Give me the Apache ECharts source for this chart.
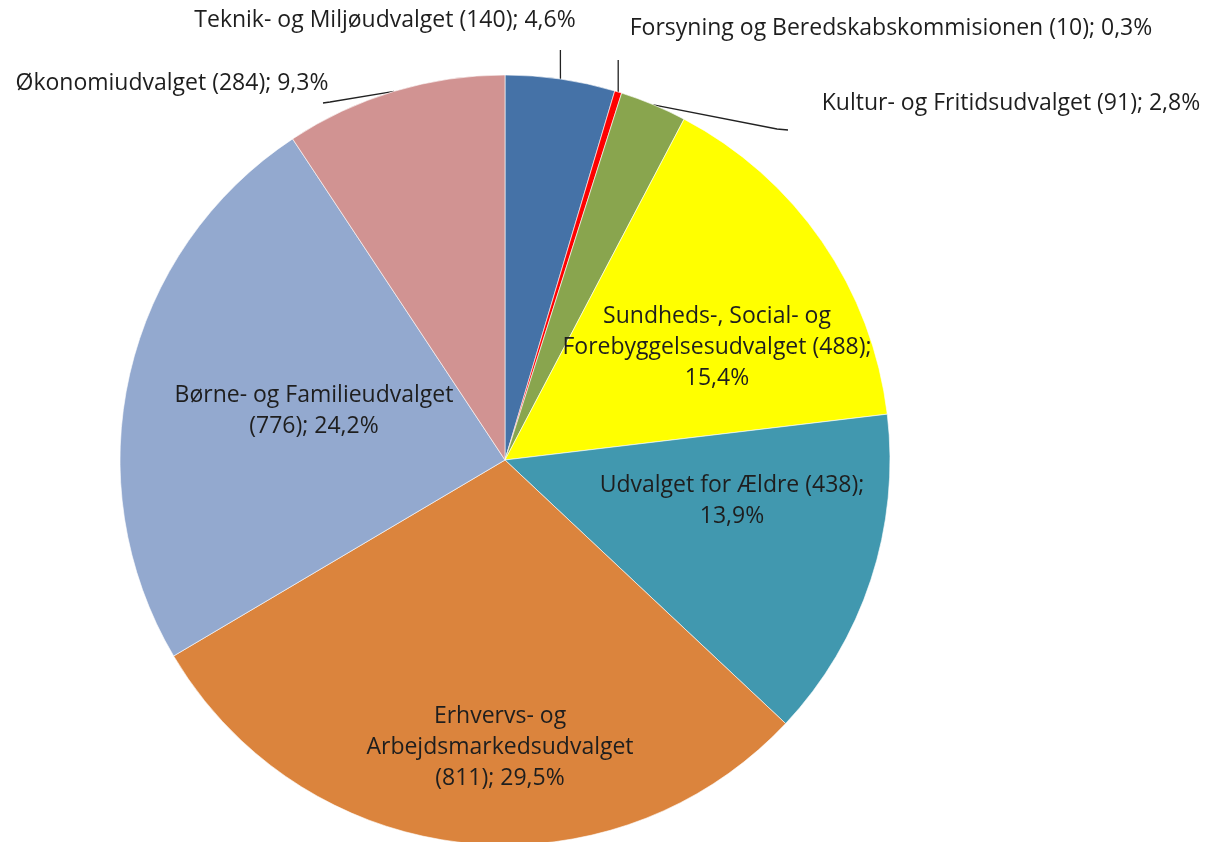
<!DOCTYPE html>
<html><head><meta charset="utf-8">
<script src="https://cdn.jsdelivr.net/npm/echarts@6/dist/echarts.min.js"></script>
<style>html,body{margin:0;padding:0;background:#fff}#c{width:1212px;height:842px}</style>
</head><body><div id="c"></div>
<script>
// ---- data ----
const names = [
  'Teknik- og Miljøudvalget',
  'Forsyning og Beredskabskommisionen',
  'Kultur- og Fritidsudvalget',
  'Sundheds-, Social- og Forebyggelsesudvalget',
  'Udvalget for Ældre',
  'Erhvervs- og Arbejdsmarkedsudvalget',
  'Børne- og Familieudvalget',
  'Økonomiudvalget'
];
const counts = [140, 10, 91, 488, 438, 811, 776, 284];
const percents = [4.6, 0.3, 2.8, 15.4, 13.9, 29.5, 24.2, 9.3];
const colors = ['#4572A7', '#FF0000', '#89A54E', '#FFFF00', '#4198AF', '#DB843D', '#93A9CF', '#D19392'];

// ---- label text wrapping (display only) ----
const nameWrap = [null, null, null, 'Sundheds-, Social- og\nForebyggelsesudvalget', null, 'Erhvervs- og\nArbejdsmarkedsudvalget', null, null];
const breakBeforeCount = [false, false, false, false, false, true, true, false];
const breakBeforePct = [false, false, false, true, true, false, false, false];

// ---- layout ----
const CX = 505, CY = 460, R = 385;
const outside = [true, true, true, false, false, false, false, true];
// label centre offsets from pie centre
const labelOffset = [[-120, -440], [386, -432], [506, -357], [212, -113], [227, 41], [-5, 287], [-191, -49], [-333, -377]];
// label-line bend / end points relative to pie centre
const lineRel = [
  [[55.4, -396], [55.4, -410]],
  [[113.2, -384], [113.2, -400]],
  [[272, -331], [283, -330]],
  null, null, null, null,
  [[-175, -358], [-182, -357]]
];

function fmtPct(v) { return v.toFixed(1).replace('.', ',') + '%'; }
function labelText(i) {
  const n = nameWrap[i] || names[i];
  return n + (breakBeforeCount[i] ? '\n' : ' ') + '(' + counts[i] + ');' + (breakBeforePct[i] ? '\n' : ' ') + fmtPct(percents[i]);
}
function bisector(i) {
  let s = 0;
  for (let k = 0; k < i; k++) s += percents[k];
  const total = percents.reduce((a, b) => a + b, 0);
  return (s + percents[i] / 2) / total * Math.PI * 2;
}

const chart = echarts.init(document.getElementById('c'), null, { renderer: 'canvas' });
chart.setOption({
  animation: false,
  backgroundColor: '#ffffff',
  series: [{
    type: 'pie',
    center: [CX, CY],
    radius: R,
    startAngle: 90,
    clockwise: true,
    avoidLabelOverlap: false,
    minAngle: 0,
    itemStyle: { borderColor: 'rgba(255,255,255,0.6)', borderWidth: 1 },
    label: {
      fontFamily: 'Open Sans',
      fontSize: 23,
      lineHeight: 31,
      color: '#1e1e1e',
      align: 'center',
      formatter: p => labelText(p.dataIndex)
    },
    labelLine: { lineStyle: { color: '#222', width: 1.3 }, smooth: false },
    labelLayout: function (p) {
      const i = p.dataIndex;
      const o = labelOffset[i];
      const res = { x: CX + o[0], y: CY + o[1], align: 'center', verticalAlign: 'middle' };
      if (lineRel[i]) {
        const a = bisector(i);
        const sx = CX + R * Math.sin(a), sy = CY - R * Math.cos(a);
        res.labelLinePoints = [[sx, sy]].concat(lineRel[i].map(q => [CX + q[0], CY + q[1]]));
      }
      return res;
    },
    data: names.map((n, i) => ({
      name: n,
      value: percents[i],
      itemStyle: { color: colors[i] },
      label: { position: outside[i] ? 'outside' : 'inside' },
      labelLine: { show: outside[i] }
    }))
  }]
});
</script>
</body></html>
